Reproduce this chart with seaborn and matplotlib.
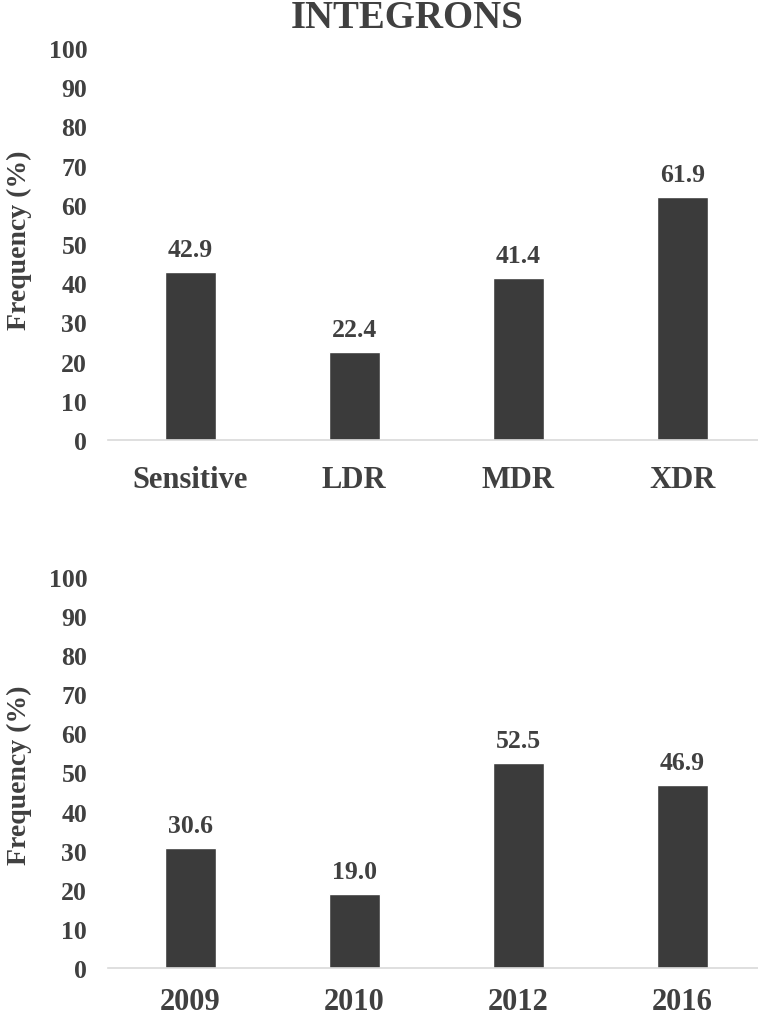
import matplotlib
matplotlib.use("Agg")
import matplotlib.pyplot as plt
import seaborn as sns
import pandas as pd

sns.set_theme(style="white")
plt.rcParams['font.family'] = ['Liberation Serif', 'DejaVu Serif']
plt.rcParams['font.weight'] = 'bold'

title = "INTEGRONS"
ylabel = "Frequency (%)"
cats_top = ["Sensitive", "LDR", "MDR", "XDR"]
vals_top = [42.9, 22.4, 41.4, 61.9]
cats_bot = ["2009", "2010", "2012", "2016"]
vals_bot = [30.6, 19.0, 52.5, 46.9]
yticks = list(range(0, 101, 10))

bar_color = "#3b3b3b"
text_color = "#404040"

fig = plt.figure(figsize=(7.58, 10.2), dpi=100)
W, H = 758, 1020

def make_ax(y0_px, y100_px):
    left = 108 / W
    width = (W - 108) / W
    bottom = (H - y0_px) / H
    height = (y0_px - y100_px) / H
    return fig.add_axes([left, bottom, width, height])

def draw(ax, cats, vals, xpad):
    df = pd.DataFrame({"cat": cats, "val": vals})
    sns.barplot(data=df, x="cat", y="val", ax=ax, color=bar_color,
                saturation=1, width=0.31, order=cats)
    ax.set_ylim(0, 100)
    ax.set_xlim(-0.5, 3.46)
    ax.set_yticks(yticks)
    ax.set_yticklabels([str(t) for t in yticks], fontsize=18.5, fontweight='bold', color=text_color)
    ax.tick_params(axis='y', length=0, pad=15)
    ax.tick_params(axis='x', length=0, pad=xpad)
    for lab in ax.get_xticklabels():
        lab.set_fontsize(22)
        lab.set_fontweight('bold')
        lab.set_color(text_color)
    ax.set_xlabel("")
    ax.set_ylabel("")
    for s in ["top", "right", "left"]:
        ax.spines[s].set_visible(False)
    ax.spines["bottom"].set_color("#d9d9d9")
    ax.spines["bottom"].set_linewidth(1.2)
    for container in ax.containers:
        ax.bar_label(container, labels=[f"{v:.1f}" for v in vals], padding=8,
                     fontsize=18.5, fontweight='bold', color=text_color)

ax1 = make_ax(441, 49)
draw(ax1, cats_top, vals_top, 18)
ax2 = make_ax(969, 578)
draw(ax2, cats_bot, vals_bot, 14)

fig.text(407 / W, 1 - 18 / H, title, ha='center', va='center', fontsize=28,
         fontweight='bold', color=text_color)
fig.text(19 / W, 1 - 240 / H, ylabel, ha='center', va='center', rotation=90,
         fontsize=20, fontweight='bold', color=text_color)
fig.text(19 / W, 1 - 775 / H, ylabel, ha='center', va='center', rotation=90,
         fontsize=20, fontweight='bold', color=text_color)

fig.savefig("out.png", dpi=100, facecolor="white")
